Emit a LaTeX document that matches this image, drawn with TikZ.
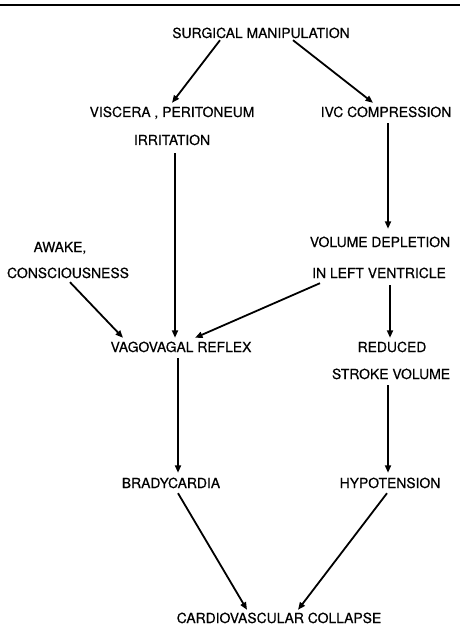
\documentclass[tikz,border=0pt]{standalone}
\usepackage{fontspec}
\setmainfont{TeX Gyre Heros}[FakeBold=0.5]
\usetikzlibrary{arrows.meta}
\begin{document}
\begin{tikzpicture}[x=1pt,y=-1pt,
  lbl/.style={inner sep=0pt,text height=10pt,text depth=0pt,font=\fontsize{13.9}{16}\selectfont},
  arr/.style={line width=1.8pt,-{Triangle[length=7.5pt,width=6pt]}}]
\useasboundingbox (0,0) rectangle (460,639);
\draw[line width=1.8pt] (0,5) -- (460,5);
\node[lbl] (sm) at (261,33) {SURGICAL MANIPULATION};
\node[lbl] (vp) at (172,112) {VISCERA , PERITONEUM};
\node[lbl] (ivc) at (386,112) {IVC COMPRESSION};
\node[lbl] (irr) at (172,140) {IRRITATION};
\node[lbl] (awake) at (60,247) {AWAKE,};
\node[lbl] (cons) at (68,273) {CONSCIOUSNESS};
\node[lbl] (vd) at (380,242) {VOLUME DEPLETION};
\node[lbl] (lv) at (379,273) {IN LEFT VENTRICLE};
\node[lbl] (vr) at (181,347) {VAGOVAGAL REFLEX};
\node[lbl] (red) at (392,347) {REDUCED};
\node[lbl] (sv) at (391,374) {STROKE VOLUME};
\node[lbl] (br) at (171,483) {BRADYCARDIA};
\node[lbl] (hy) at (390,483) {HYPOTENSION};
\node[lbl] (cc) at (279,618) {CARDIOVASCULAR COLLAPSE};
\draw[arr] ([xshift=-41pt,yshift=-2pt]sm.south) -- ([yshift=4pt]vp.north);
\draw[arr] ([xshift=32pt,yshift=-2pt]sm.south) -- ([xshift=-13pt,yshift=4pt]ivc.north);
\draw[arr] ([xshift=3pt,yshift=-8pt]irr.south) -- ([xshift=-6pt,yshift=4pt]vr.north);
\draw[arr] ([xshift=2pt,yshift=-6pt]ivc.south) -- ([xshift=8pt,yshift=8pt]vd.north);
\draw[arr] ([xshift=2pt,yshift=-4pt]cons.south) -- ([xshift=-58pt,yshift=4pt]vr.north);
\draw[arr] ([xshift=-59pt,yshift=-5pt]lv.south) -- ([xshift=14pt,yshift=4pt]vr.north);
\draw[arr] ([xshift=11pt,yshift=-7pt]lv.south) -- ([xshift=-2pt,yshift=4pt]red.north);
\draw[arr] ([xshift=-3pt,yshift=-6pt]vr.south) -- ([xshift=7pt,yshift=5pt]br.north);
\draw[arr] ([xshift=-3pt,yshift=-6pt]sv.south) -- ([xshift=-2pt,yshift=5pt]hy.north);
\draw[arr] ([xshift=7pt,yshift=-5pt]br.south) -- ([xshift=-32pt,yshift=3pt]cc.north);
\draw[arr] ([xshift=-3pt,yshift=-5pt]hy.south) -- ([xshift=19pt,yshift=3pt]cc.north);
\end{tikzpicture}
\end{document}
